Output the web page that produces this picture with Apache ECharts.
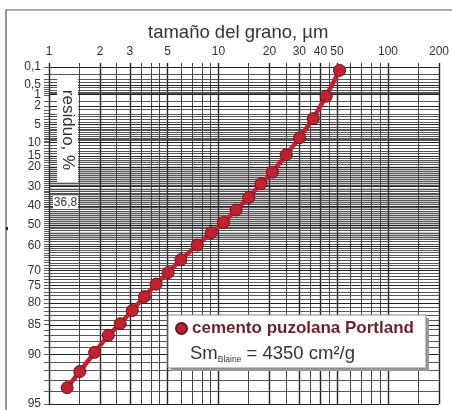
<!DOCTYPE html>
<html>
<head>
<meta charset="utf-8">
<script src="https://cdn.jsdelivr.net/npm/echarts@6/dist/echarts.min.js"></script>
<style>
  html, body { margin: 0; padding: 0; background: #fff; }
  #main { width: 452px; height: 410px; }
</style>
</head>
<body>
<div id="main"></div>
<script>
// grain size (µm) and residue (%)
var sizes = [1.28, 1.52, 1.86, 2.24, 2.63, 3.1, 3.66, 4.28, 5.04, 6.0, 7.5, 9.06, 10.7, 12.7, 15.1, 17.8, 20.8, 25.1, 30.1, 36.2, 43.2, 51.8];
var residues = [93.7, 92.1, 89.7, 87.0, 84.8, 81.9, 78.3, 74.6, 70.7, 65.8, 59.6, 53.8, 48.7, 42.2, 35.5, 28.3, 22.4, 14.6, 8.5, 3.85, 1.1, 0.14];

var xLabels = [1, 2, 3, 5, 10, 20, 30, 40, 50, 100, 200];
var xLines = [1, 1.5, 2, 2.5, 3, 3.5, 4, 4.5, 5, 6, 7, 8, 9, 10, 15, 20, 25, 30, 35, 40, 45, 50, 60, 70, 80, 90, 100, 150, 200];
var yLabels = [0.1, 0.5, 1, 2, 5, 10, 15, 20, 30, 40, 50, 60, 70, 75, 80, 85, 90, 95];

function steps(a, b, s) {
  var out = [];
  for (var v = a; v <= b + 1e-9; v += s) out.push(Math.round(v * 100) / 100);
  return out;
}
var yLines = steps(0.1, 0.9, 0.1).concat(steps(1, 9.5, 0.5), steps(10, 95, 1));
var yHalf = steps(17.5, 56.5, 1);

// RRSB net: y = ln(ln(100/R))
function rr(r) { return Math.log(Math.log(100 / r)); }
function unrr(v) { return 100 / Math.exp(Math.exp(v)); }

var chartDom = document.getElementById('main');
var myChart = echarts.init(chartDom);
var option;

var pts = sizes.map(function (s, i) { return [s, rr(residues[i])]; });

var vMarks = xLines.map(function (v) {
  var major = xLabels.indexOf(v) >= 0;
  return { xAxis: v, lineStyle: { type: 'solid', color: major ? '#222' : '#444', width: major ? 1.4 : 1 } };
});
var hMarks = yLines.map(function (v) {
  var major = yLabels.indexOf(v) >= 0;
  return { yAxis: rr(v), lineStyle: { type: 'solid', color: major ? '#222' : '#444', width: major ? 1.2 : 0.9 } };
});
var halfMarks = yHalf.map(function (v) {
  return { yAxis: rr(v), lineStyle: { type: 'solid', color: '#aaa', width: 0.6 } };
});

option = {
  animation: false,
  title: {
    text: 'tamaño del grano, µm',
    left: 143,
    top: 18,
    textStyle: { fontFamily: 'Liberation Sans', fontSize: 18.5, fontWeight: 'normal', color: '#333' }
  },
  legend: {
    data: ['cemento puzolana Portland'],
    left: 175,
    top: 320,
    padding: 0,
    icon: 'circle',
    itemWidth: 11,
    itemHeight: 11,
    z: 20,
    textStyle: { fontFamily: 'Liberation Sans', fontSize: 17, fontWeight: 'bold', color: '#6d1f2a' }
  },
  grid: { left: 49, right: 11.5, top: 63, bottom: 2 },
  xAxis: {
    type: 'log',
    logBase: 10,
    min: 1,
    max: 200,
    position: 'top',
    axisLine: { show: false },
    axisTick: { show: false },
    splitLine: { show: false },
    axisLabel: {
      customValues: xLabels,
      margin: 5,
      fontFamily: 'Liberation Sans',
      fontSize: 12,
      color: '#333',
      formatter: function (v) { return String(Math.round(v)); }
    }
  },
  yAxis: {
    type: 'value',
    min: rr(95),
    max: 1.99,
    axisLine: { show: false },
    splitLine: { show: false },
    axisTick: {
      show: true,
      length: 5,
      customValues: yLines.map(rr),
      lineStyle: { color: '#333', width: 0.8 }
    },
    axisLabel: {
      customValues: yLabels.map(rr),
      margin: 8,
      fontFamily: 'Liberation Sans',
      fontSize: 12,
      color: '#333',
      formatter: function (v) {
        var r = unrr(v);
        r = r < 1 ? Math.round(r * 10) / 10 : Math.round(r);
        return String(r).replace('.', ',');
      }
    }
  },
  graphic: [
    { type: 'rect', z: 0, shape: { x: 6, y: 10, width: 470, height: 420 }, style: { fill: 'none', stroke: '#555', lineWidth: 1.2 } },
    { type: 'rect', z: 0, shape: { x: 6, y: 227, width: 2, height: 3 }, style: { fill: '#222' } },
    { type: 'rect', z: 10, shape: { x: 57, y: 77, width: 21, height: 105 }, style: { fill: '#fff' } },
    { type: 'text', z: 11, x: 67.5, y: 130, rotation: -Math.PI / 2,
      style: { text: 'residuo, %', fontFamily: 'Liberation Sans', fontSize: 17, fill: '#333', align: 'center', verticalAlign: 'middle' } },
    { type: 'rect', z: 10, shape: { x: 53, y: 196, width: 25, height: 13 }, style: { fill: '#fff' } },
    { type: 'text', z: 11, x: 65.5, y: 202.5,
      style: { text: '36,8', fontFamily: 'Liberation Sans', fontSize: 12, fill: '#333', align: 'center', verticalAlign: 'middle' } },
    { type: 'rect', z: 10, shape: { x: 171, y: 318, width: 258, height: 53 }, style: { fill: '#999' } },
    { type: 'rect', z: 11, shape: { x: 168, y: 315, width: 258, height: 53 }, style: { fill: '#fff', stroke: '#888', lineWidth: 1 } },
    { type: 'text', z: 12, x: 190, y: 354,
      style: {
        text: '{a|Sm}{b|Blaine}{a| = 4350 cm²/g}',
        verticalAlign: 'middle',
        rich: {
          a: { fontFamily: 'Liberation Sans', fontSize: 18.5, fill: '#333', lineHeight: 20 },
          b: { fontFamily: 'Liberation Sans', fontSize: 8.5, fill: '#333', lineHeight: 20, verticalAlign: 'bottom', padding: [8, 0, 0, 0] }
        }
      } }
  ],
  series: [
    {
      name: 'net',
      type: 'line',
      data: [],
      z: 1,
      silent: true,
      markLine: {
        silent: true,
        symbol: 'none',
        label: { show: false },
        animation: false,
        data: halfMarks.concat(vMarks, hMarks)
      }
    },
    {
      name: 'cemento puzolana Portland',
      type: 'line',
      z: 5,
      data: pts,
      color: '#c61f2f',
      lineStyle: { color: '#c61f2f', width: 4.5 },
      symbol: 'circle',
      symbolSize: 12,
      itemStyle: { color: '#c61f2f', borderColor: '#5a1a20', borderWidth: 1 }
    }
  ]
};

option && myChart.setOption(option);
</script>
</body>
</html>
